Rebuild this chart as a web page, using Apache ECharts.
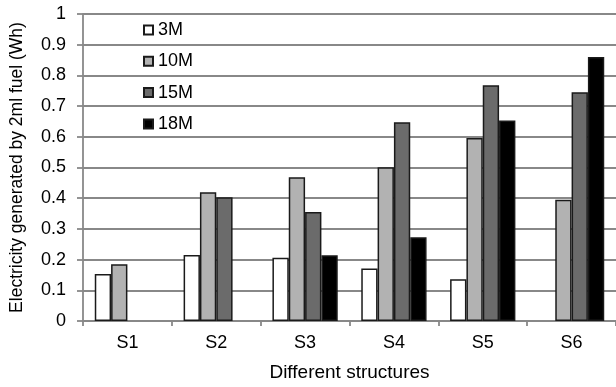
<!DOCTYPE html>
<html>
<head>
<meta charset="utf-8">
<script src="https://cdn.jsdelivr.net/npm/echarts@6/dist/echarts.min.js"></script>
<style>
  html, body { margin: 0; padding: 0; background: #fff; }
  #chart { width: 616px; height: 387px; }
</style>
</head>
<body>
<div id="chart"></div>
<script>
// Electricity output per structure, grouped by fuel concentration
const structures = ['S1', 'S2', 'S3', 'S4', 'S5', 'S6'];
const seriesNames = ['3M', '10M', '15M', '18M'];
const vals3M  = [0.153, 0.215, 0.206, 0.171, 0.136, null];
const vals10M = [0.185, 0.419, 0.468, 0.501, 0.596, 0.395];
const vals15M = [null, 0.403, 0.355, 0.647, 0.768, 0.745];
const vals18M = [null, null, 0.214, 0.273, 0.653, 0.860];
const yTicks = [0, 0.1, 0.2, 0.3, 0.4, 0.5, 0.6, 0.7, 0.8, 0.9, 1];

const fills = ['#ffffff', '#b2b2b2', '#6b6b6b', '#000000'];
const allVals = [vals3M, vals10M, vals15M, vals18M];
const font = 'Liberation Sans, Arial, sans-serif';

const chart = echarts.init(document.getElementById('chart'), null, { renderer: 'canvas' });

chart.setOption({
  animation: false,
  backgroundColor: '#ffffff',
  textStyle: { fontFamily: font },
  grid: { left: 78, right: -4.4, top: 14, bottom: 63 },
  legend: {
    orient: 'vertical',
    left: 138,
    top: 16,
    itemWidth: 9,
    itemHeight: 9,
    itemGap: 13.3,
    itemTextGap: 6,
    icon: 'rect',
    data: seriesNames,
    textStyle: { fontFamily: font, fontSize: 18, color: '#000' }
  },
  xAxis: {
    type: 'category',
    data: structures,
    name: 'Different structures',
    nameLocation: 'middle',
    nameGap: 42,
    nameTextStyle: { fontSize: 19, color: '#000' },
    axisLine: { lineStyle: { color: '#888888', width: 1.8 } },
    axisTick: { show: true, length: 5, lineStyle: { color: '#888888', width: 1.8 } },
    axisLabel: { fontSize: 18, color: '#000', margin: 13 }
  },
  yAxis: {
    type: 'value',
    min: yTicks[0],
    max: yTicks[yTicks.length - 1],
    interval: 0.1,
    name: 'Electricity generated by 2ml fuel (Wh)',
    nameLocation: 'middle',
    nameGap: 57,
    nameRotate: 90,
    nameTextStyle: { fontSize: 17.5, color: '#000' },
    axisLine: { show: true, lineStyle: { color: '#888888', width: 1.8 } },
    axisTick: { show: true, length: 6, lineStyle: { color: '#888888', width: 1.8 } },
    axisLabel: {
      fontSize: 18, color: '#000', margin: 17,
      formatter: v => String(Math.round(v * 10) / 10)
    },
    splitLine: { show: true, lineStyle: { color: '#888888', width: 1.8 } }
  },
  series: seriesNames.map((name, i) => ({
    name,
    type: 'bar',
    data: allVals[i],
    barGap: '0%',
    barCategoryGap: '26.5%',
    itemStyle: { color: fills[i], borderColor: '#1a1a1a', borderWidth: 1.5 }
  }))
});
</script>
</body>
</html>
